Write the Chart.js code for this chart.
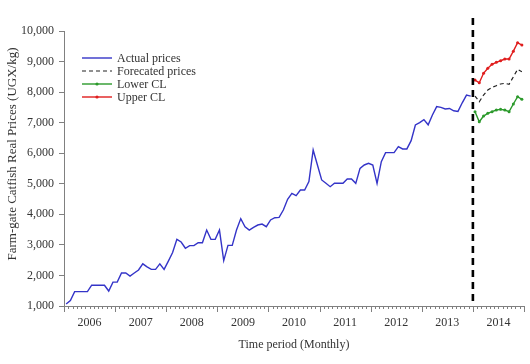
<!DOCTYPE html>
<html>
<head>
<meta charset="utf-8">
<script src="https://cdn.jsdelivr.net/npm/chart.js@4/dist/chart.umd.min.js"></script>
<style>
  html, body { margin: 0; padding: 0; background: #fff; }
  #chart { display: block; }
</style>
</head>
<body>
<canvas id="chart" width="530" height="364"></canvas>
<script>
// Monthly data, Jan 2006 - Dec 2013 (actual) and Jan - Dec 2014 (forecast)
const yearLabels = ["2006", "2007", "2008", "2009", "2010", "2011", "2012", "2013", "2014"];

const actualPrices = [
  1065, 1180, 1470, 1470, 1470, 1470, 1680, 1680, 1680, 1680, 1490, 1780,
  1780, 2080, 2080, 1980, 2080, 2180, 2380, 2280, 2200, 2200, 2380, 2200,
  2470, 2750, 3180, 3095, 2890, 2975, 2975, 3070, 3070, 3485, 3180, 3180,
  3485, 2485, 2985, 2985, 3485, 3860, 3595, 3485, 3575, 3650, 3680, 3595,
  3815, 3890, 3900, 4140, 4490, 4685, 4610, 4795, 4795, 5070, 6105, 5615,
  5125, 5015, 4905, 5015, 5015, 5015, 5155, 5155, 5015, 5505, 5615, 5670,
  5615, 5015, 5725, 6020, 6020, 6020, 6215, 6140, 6140, 6410, 6925, 7000,
  7100, 6930, 7250, 7525, 7500, 7450, 7465, 7390, 7370, 7650, 7900, 7870
];
const forecastPrices = [7872, 7685, 7905, 8068, 8156, 8210, 8265, 8287, 8255, 8500, 8745, 8667];
const lowerCL = [7360, 7030, 7217, 7305, 7360, 7414, 7436, 7414, 7360, 7610, 7850, 7765];
const upperCL = [8395, 8307, 8615, 8778, 8909, 8975, 9027, 9082, 9082, 9340, 9616, 9540];

const yTitle = "Farm-gate Catfish Real Prices (UGX/kg)";

const forecastStart = actualPrices.length;           // month index of Jan 2014
const totalMonths = yearLabels.length * 12;

const toPoints = (arr, offset) => arr.map((v, i) => ({ x: offset + i + 0.5, y: v }));

const serif = "'Liberation Serif', 'DejaVu Serif', serif";
const axisColor = "#808080";
const textColor = "#333";

// draws month ticks (longer at year boundaries), the forecast divider, y title and the legend
const decorations = {
  id: "decorations",
  afterDraw(chart) {
    const { ctx, chartArea, scales } = chart;
    const xs = scales.x;
    ctx.save();

    // x ticks
    ctx.strokeStyle = axisColor;
    ctx.lineWidth = 1;
    ctx.beginPath();
    for (let i = 0; i <= totalMonths; i++) {
      const px = Math.round(xs.getPixelForValue(i)) + 0.5;
      const len = i % 12 === 0 ? 6 : 3;
      ctx.moveTo(px, chartArea.bottom);
      ctx.lineTo(px, chartArea.bottom + len);
    }
    ctx.stroke();

    // forecast divider
    const dx = xs.getPixelForValue(forecastStart);
    ctx.strokeStyle = "#000";
    ctx.lineWidth = 2.6;
    ctx.setLineDash([7, 5]);
    ctx.beginPath();
    ctx.moveTo(dx, 18);
    ctx.lineTo(dx, chartArea.bottom);
    ctx.stroke();
    ctx.setLineDash([]);

    // y axis title
    ctx.save();
    ctx.translate(13, 154);
    ctx.rotate(-Math.PI / 2);
    ctx.font = "13px " + serif;
    ctx.fillStyle = textColor;
    ctx.textAlign = "center";
    ctx.textBaseline = "middle";
    ctx.fillText(yTitle, 0, 0);
    ctx.restore();

    // legend
    const lx = 82, tx = 117;
    let ly = 58;
    ctx.font = "12px " + serif;
    ctx.textBaseline = "middle";
    chart.data.datasets.forEach(ds => {
      ctx.strokeStyle = ds.borderColor;
      ctx.lineWidth = ds.borderWidth;
      ctx.setLineDash(ds.borderDash || []);
      ctx.beginPath();
      ctx.moveTo(lx, ly);
      ctx.lineTo(lx + 30, ly);
      ctx.stroke();
      ctx.setLineDash([]);
      if (ds.pointRadius > 0) {
        ctx.fillStyle = ds.borderColor;
        ctx.beginPath();
        ctx.arc(lx + 15, ly, 1.6, 0, Math.PI * 2);
        ctx.fill();
      }
      ctx.fillStyle = textColor;
      ctx.fillText(ds.label, tx, ly + 0.5);
      ly += 13;
    });
    ctx.restore();
  }
};

new Chart(document.getElementById("chart"), {
  type: "line",
  data: {
    datasets: [
      {
        label: "Actual prices",
        data: toPoints(actualPrices, 0),
        borderColor: "#3434c8",
        borderWidth: 1.4,
        pointRadius: 0,
        tension: 0,
      },
      {
        label: "Forecated prices",
        data: toPoints(forecastPrices, forecastStart),
        borderColor: "#222",
        borderWidth: 1.2,
        borderDash: [4, 3],
        pointRadius: 0,
      },
      {
        label: "Lower CL",
        data: toPoints(lowerCL, forecastStart),
        borderColor: "#2c9a2c",
        backgroundColor: "#2c9a2c",
        borderWidth: 1.4,
        pointRadius: 1.5,
        pointBorderWidth: 0,
      },
      {
        label: "Upper CL",
        data: toPoints(upperCL, forecastStart),
        borderColor: "#e01e1e",
        backgroundColor: "#e01e1e",
        borderWidth: 1.4,
        pointRadius: 1.5,
        pointBorderWidth: 0,
      },
    ],
  },
  options: {
    responsive: false,
    animation: false,
    devicePixelRatio: 1,
    layout: { padding: { top: 31, right: 6, left: 0, bottom: 0 } },
    plugins: { legend: { display: false }, tooltip: { enabled: false } },
    scales: {
      x: {
        type: "linear",
        min: 0,
        max: totalMonths,
        afterBuildTicks: (s) => {
          s.ticks = yearLabels.map((_, i) => ({ value: i * 12 + 6 }));
        },
        afterFit: (s) => { s.height = 58; },
        grid: { display: false, drawTicks: false },
        border: { display: true, color: axisColor, width: 1 },
        ticks: {
          autoSkip: false,
          maxRotation: 0,
          padding: 10,
          color: textColor,
          font: { family: serif, size: 12 },
          callback: (v) => yearLabels[Math.floor(v / 12)],
        },
        title: {
          display: true,
          text: "Time period (Monthly)",
          color: textColor,
          font: { family: serif, size: 12 },
          padding: { top: 4, bottom: 12 },
        },
      },
      y: {
        min: 1000,
        max: 10000,
        afterFit: (s) => { s.width = 64; },
        grid: { drawOnChartArea: false, tickLength: 5, color: axisColor },
        border: { display: true, color: axisColor, width: 1 },
        ticks: {
          stepSize: 1000,
          padding: 5,
          color: textColor,
          font: { family: serif, size: 12 },
          callback: (v) => v.toLocaleString("en-US"),
        },
        title: { display: false },
      },
    },
  },
  plugins: [decorations],
});
</script>
</body>
</html>
